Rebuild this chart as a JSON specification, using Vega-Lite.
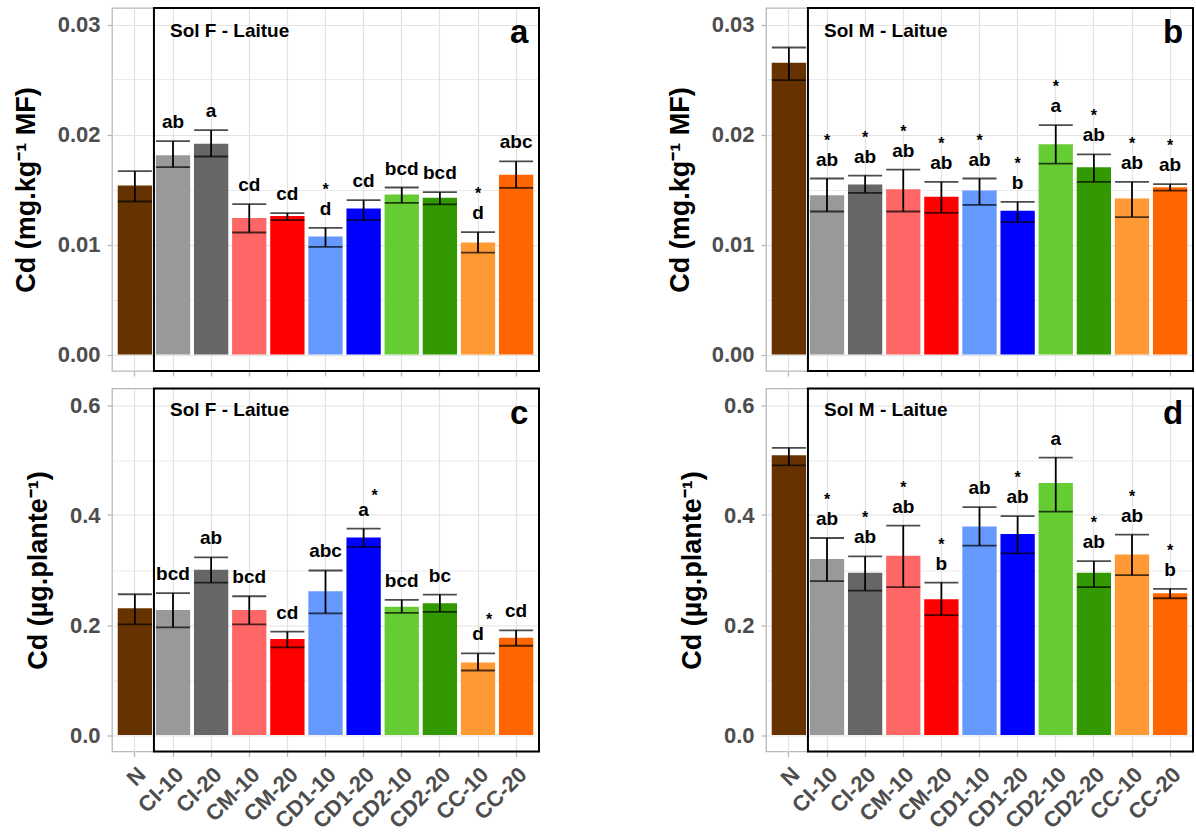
{
  "$schema": "https://vega.github.io/schema/vega-lite/v6.json",
  "padding": {"left": 11, "top": 0, "right": 0, "bottom": 0},
  "background": "white",
  "datasets": {
    "a": [
      {"trt": "N", "mean": 0.01536, "lo": 0.01391, "hi": 0.01667, "lab": "", "star": ""},
      {"trt": "CI-10", "mean": 0.01812, "lo": 0.01703, "hi": 0.01939, "lab": "ab", "star": ""},
      {"trt": "CI-20", "mean": 0.01915, "lo": 0.0180, "hi": 0.0204, "lab": "a", "star": ""},
      {"trt": "CM-10", "mean": 0.01242, "lo": 0.01109, "hi": 0.01367, "lab": "cd", "star": ""},
      {"trt": "CM-20", "mean": 0.01258, "lo": 0.01221, "hi": 0.01285, "lab": "cd", "star": ""},
      {"trt": "CD1-10", "mean": 0.01073, "lo": 0.00979, "hi": 0.01152, "lab": "d", "star": "*"},
      {"trt": "CD1-20", "mean": 0.01327, "lo": 0.01221, "hi": 0.01403, "lab": "cd", "star": ""},
      {"trt": "CD2-10", "mean": 0.01455, "lo": 0.01379, "hi": 0.01518, "lab": "bcd", "star": ""},
      {"trt": "CD2-20", "mean": 0.01424, "lo": 0.01364, "hi": 0.01476, "lab": "bcd", "star": ""},
      {"trt": "CC-10", "mean": 0.01018, "lo": 0.00927, "hi": 0.01112, "lab": "d", "star": "*"},
      {"trt": "CC-20", "mean": 0.01633, "lo": 0.01515, "hi": 0.01755, "lab": "abc", "star": ""}
    ],
    "b": [
      {"trt": "N", "mean": 0.02652, "lo": 0.02495, "hi": 0.02791, "lab": "", "star": ""},
      {"trt": "CI-10", "mean": 0.01448, "lo": 0.0130, "hi": 0.0160, "lab": "ab", "star": "*"},
      {"trt": "CI-20", "mean": 0.01545, "lo": 0.0147, "hi": 0.01627, "lab": "ab", "star": "*"},
      {"trt": "CM-10", "mean": 0.01503, "lo": 0.0130, "hi": 0.01681, "lab": "ab", "star": "*"},
      {"trt": "CM-20", "mean": 0.01433, "lo": 0.01288, "hi": 0.01569, "lab": "ab", "star": "*"},
      {"trt": "CD1-10", "mean": 0.01491, "lo": 0.01361, "hi": 0.0160, "lab": "ab", "star": "*"},
      {"trt": "CD1-20", "mean": 0.01306, "lo": 0.01203, "hi": 0.01388, "lab": "b", "star": "*"},
      {"trt": "CD2-10", "mean": 0.01911, "lo": 0.01736, "hi": 0.02086, "lab": "a", "star": "*"},
      {"trt": "CD2-20", "mean": 0.01702, "lo": 0.01569, "hi": 0.0182, "lab": "ab", "star": "*"},
      {"trt": "CC-10", "mean": 0.01418, "lo": 0.01249, "hi": 0.01569, "lab": "ab", "star": "*"},
      {"trt": "CC-20", "mean": 0.0152, "lo": 0.0149, "hi": 0.01548, "lab": "ab", "star": "*"}
    ],
    "c": [
      {"trt": "N", "mean": 0.2304, "lo": 0.2012, "hi": 0.2559, "lab": "", "star": ""},
      {"trt": "CI-10", "mean": 0.2274, "lo": 0.1957, "hi": 0.2578, "lab": "bcd", "star": ""},
      {"trt": "CI-20", "mean": 0.3003, "lo": 0.2772, "hi": 0.3228, "lab": "ab", "star": ""},
      {"trt": "CM-10", "mean": 0.2274, "lo": 0.2012, "hi": 0.2523, "lab": "bcd", "star": ""},
      {"trt": "CM-20", "mean": 0.1745, "lo": 0.1593, "hi": 0.1878, "lab": "cd", "star": ""},
      {"trt": "CD1-10", "mean": 0.2614, "lo": 0.2213, "hi": 0.2991, "lab": "abc", "star": ""},
      {"trt": "CD1-20", "mean": 0.3593, "lo": 0.3422, "hi": 0.3751, "lab": "a", "star": "*"},
      {"trt": "CD2-10", "mean": 0.2334, "lo": 0.2219, "hi": 0.2456, "lab": "bcd", "star": ""},
      {"trt": "CD2-20", "mean": 0.2395, "lo": 0.2237, "hi": 0.2553, "lab": "bc", "star": ""},
      {"trt": "CC-10", "mean": 0.1319, "lo": 0.1173, "hi": 0.1483, "lab": "d", "star": "*"},
      {"trt": "CC-20", "mean": 0.1769, "lo": 0.1623, "hi": 0.1903, "lab": "cd", "star": ""}
    ],
    "d": [
      {"trt": "N", "mean": 0.5087, "lo": 0.4904, "hi": 0.5221, "lab": "", "star": ""},
      {"trt": "CI-10", "mean": 0.3198, "lo": 0.2796, "hi": 0.3582, "lab": "ab", "star": "*"},
      {"trt": "CI-20", "mean": 0.2949, "lo": 0.2626, "hi": 0.3247, "lab": "ab", "star": "*"},
      {"trt": "CM-10", "mean": 0.3259, "lo": 0.2687, "hi": 0.3808, "lab": "ab", "star": "*"},
      {"trt": "CM-20", "mean": 0.2467, "lo": 0.2181, "hi": 0.2772, "lab": "b", "star": "*"},
      {"trt": "CD1-10", "mean": 0.3789, "lo": 0.3442, "hi": 0.4143, "lab": "ab", "star": ""},
      {"trt": "CD1-20", "mean": 0.3655, "lo": 0.3302, "hi": 0.3978, "lab": "ab", "star": "*"},
      {"trt": "CD2-10", "mean": 0.4581, "lo": 0.4063, "hi": 0.5044, "lab": "a", "star": ""},
      {"trt": "CD2-20", "mean": 0.2949, "lo": 0.2687, "hi": 0.3162, "lab": "ab", "star": "*"},
      {"trt": "CC-10", "mean": 0.3284, "lo": 0.2906, "hi": 0.3643, "lab": "ab", "star": "*"},
      {"trt": "CC-20", "mean": 0.2577, "lo": 0.2486, "hi": 0.2656, "lab": "b", "star": "*"}
    ]
  },
  "config": {
    "view": {"stroke": "#b8b8b8", "strokeWidth": 1.3},
    "axis": {
      "domain": false,
      "tickColor": "#b8b8b8",
      "tickSize": 5,
      "tickWidth": 1.3,
      "gridColor": "#e2e2e2",
      "gridWidth": 1.2,
      "labelFont": "Liberation Sans",
      "labelFontWeight": "bold",
      "labelColor": "#4d4d4d",
      "titleFont": "Liberation Sans",
      "titleFontWeight": "bold",
      "titleColor": "black"
    },
    "axisY": {"labelFontSize": 22, "titleFontSize": 27, "labelPadding": 7, "titlePadding": 17},
    "axisX": {"labelFontSize": 22, "labelPadding": 7},
    "text": {"font": "Liberation Sans", "fontWeight": "bold", "color": "black"}
  },
  "columns": 2,
  "spacing": {"row": 17.5, "column": 227},
  "bounds": "flush",
  "concat": [
    {
      "width": 427, "height": 363,
      "data": {"name": "a"},
      "encoding": {
        "x": {"field": "trt", "type": "nominal", "sort": null,
              "scale": {"paddingInner": 0.1, "paddingOuter": 0.15},
              "axis": {"labels": false, "title": null, "grid": true, "ticks": true}}
      },
      "layer": [
        {
          "mark": {"type": "bar"},
          "encoding": {
            "y": {"field": "mean", "type": "quantitative", "title": "Cd (mg.kg⁻¹ MF)",
                  "scale": {"domain": [-0.0015, 0.0315], "nice": false, "zero": false},
                  "axis": {"values": [0, 0.005, 0.01, 0.015, 0.02, 0.025, 0.03],
                           "labelExpr": "abs(datum.value*100 - round(datum.value*100)) > 0.01 ? '' : format(datum.value, '.2f')",
                           "tickOpacity": {"condition": {"test": "abs(datum.value*100 - round(datum.value*100)) > 0.01", "value": 0}, "value": 1},
                           "gridWidth": {"condition": {"test": "abs(datum.value*100 - round(datum.value*100)) > 0.01", "value": 0.7}, "value": 1.2}}},
            "color": {"field": "trt", "type": "nominal", "legend": null,
                      "scale": {"domain": ["N", "CI-10", "CI-20", "CM-10", "CM-20", "CD1-10", "CD1-20", "CD2-10", "CD2-20", "CC-10", "CC-20"],
                                "range": ["#663300", "#999999", "#666666", "#ff6666", "#ff0000", "#6699ff", "#0000ff", "#66cc33", "#339900", "#ff9933", "#ff6600"]}}
          }
        },
        {
          "mark": {"type": "rect", "fillOpacity": 0, "stroke": "black", "strokeWidth": 2},
          "data": {"values": [{}]},
          "encoding": {
            "x": {"datum": "N", "bandPosition": 1.0556},
            "x2": {"datum": "CC-20", "bandPosition": 1.1667},
            "y": {"datum": -0.0015, "type": "quantitative", "title": "Cd (mg.kg⁻¹ MF)"},
            "y2": {"datum": 0.0315}
          }
        },
        {
          "mark": {"type": "rule", "color": "black", "strokeWidth": 1.8},
          "encoding": {"y": {"field": "lo", "type": "quantitative", "title": "Cd (mg.kg⁻¹ MF)"}, "y2": {"field": "hi"}}
        },
        {
          "mark": {"type": "tick", "orient": "horizontal", "size": 34, "thickness": 1.8, "color": "black"},
          "encoding": {"y": {"field": "lo", "type": "quantitative", "title": "Cd (mg.kg⁻¹ MF)"}}
        },
        {
          "mark": {"type": "tick", "orient": "horizontal", "size": 34, "thickness": 1.8, "color": "black"},
          "encoding": {"y": {"field": "hi", "type": "quantitative", "title": "Cd (mg.kg⁻¹ MF)"}}
        },
        {
          "mark": {"type": "text", "fontSize": 19, "baseline": "alphabetic", "dy": -13},
          "encoding": {"y": {"field": "hi", "type": "quantitative", "title": "Cd (mg.kg⁻¹ MF)"}, "text": {"field": "lab"}}
        },
        {
          "mark": {"type": "text", "fontSize": 16, "baseline": "alphabetic", "dy": -33},
          "encoding": {"y": {"field": "hi", "type": "quantitative", "title": "Cd (mg.kg⁻¹ MF)"}, "text": {"field": "star"}}
        },
        {
          "mark": {"type": "text", "fontSize": 19, "align": "left", "baseline": "alphabetic", "dx": -3, "dy": 12, "text": "Sol F - Laitue"},
          "data": {"values": [{}]},
          "encoding": {"x": {"datum": "CI-10"}, "y": {"datum": 0.03, "type": "quantitative", "title": "Cd (mg.kg⁻¹ MF)"}}
        },
        {
          "mark": {"type": "text", "fontSize": 33, "align": "center", "baseline": "alphabetic", "dy": 18, "dx": 3, "text": "a"},
          "data": {"values": [{}]},
          "encoding": {"x": {"datum": "CC-20"}, "y": {"datum": 0.03, "type": "quantitative", "title": "Cd (mg.kg⁻¹ MF)"}}
        }
      ]
    },
    {
      "width": 427, "height": 363,
      "data": {"name": "b"},
      "encoding": {
        "x": {"field": "trt", "type": "nominal", "sort": null,
              "scale": {"paddingInner": 0.1, "paddingOuter": 0.15},
              "axis": {"labels": false, "title": null, "grid": true, "ticks": true}}
      },
      "layer": [
        {
          "mark": {"type": "bar"},
          "encoding": {
            "y": {"field": "mean", "type": "quantitative", "title": "Cd (mg.kg⁻¹ MF)",
                  "scale": {"domain": [-0.0015, 0.0315], "nice": false, "zero": false},
                  "axis": {"values": [0, 0.005, 0.01, 0.015, 0.02, 0.025, 0.03],
                           "labelExpr": "abs(datum.value*100 - round(datum.value*100)) > 0.01 ? '' : format(datum.value, '.2f')",
                           "tickOpacity": {"condition": {"test": "abs(datum.value*100 - round(datum.value*100)) > 0.01", "value": 0}, "value": 1},
                           "gridWidth": {"condition": {"test": "abs(datum.value*100 - round(datum.value*100)) > 0.01", "value": 0.7}, "value": 1.2}}},
            "color": {"field": "trt", "type": "nominal", "legend": null,
                      "scale": {"domain": ["N", "CI-10", "CI-20", "CM-10", "CM-20", "CD1-10", "CD1-20", "CD2-10", "CD2-20", "CC-10", "CC-20"],
                                "range": ["#663300", "#999999", "#666666", "#ff6666", "#ff0000", "#6699ff", "#0000ff", "#66cc33", "#339900", "#ff9933", "#ff6600"]}}
          }
        },
        {
          "mark": {"type": "rect", "fillOpacity": 0, "stroke": "black", "strokeWidth": 2},
          "data": {"values": [{}]},
          "encoding": {
            "x": {"datum": "N", "bandPosition": 1.0556},
            "x2": {"datum": "CC-20", "bandPosition": 1.1667},
            "y": {"datum": -0.0015, "type": "quantitative", "title": "Cd (mg.kg⁻¹ MF)"},
            "y2": {"datum": 0.0315}
          }
        },
        {
          "mark": {"type": "rule", "color": "black", "strokeWidth": 1.8},
          "encoding": {"y": {"field": "lo", "type": "quantitative", "title": "Cd (mg.kg⁻¹ MF)"}, "y2": {"field": "hi"}}
        },
        {
          "mark": {"type": "tick", "orient": "horizontal", "size": 34, "thickness": 1.8, "color": "black"},
          "encoding": {"y": {"field": "lo", "type": "quantitative", "title": "Cd (mg.kg⁻¹ MF)"}}
        },
        {
          "mark": {"type": "tick", "orient": "horizontal", "size": 34, "thickness": 1.8, "color": "black"},
          "encoding": {"y": {"field": "hi", "type": "quantitative", "title": "Cd (mg.kg⁻¹ MF)"}}
        },
        {
          "mark": {"type": "text", "fontSize": 19, "baseline": "alphabetic", "dy": -13},
          "encoding": {"y": {"field": "hi", "type": "quantitative", "title": "Cd (mg.kg⁻¹ MF)"}, "text": {"field": "lab"}}
        },
        {
          "mark": {"type": "text", "fontSize": 16, "baseline": "alphabetic", "dy": -33},
          "encoding": {"y": {"field": "hi", "type": "quantitative", "title": "Cd (mg.kg⁻¹ MF)"}, "text": {"field": "star"}}
        },
        {
          "mark": {"type": "text", "fontSize": 19, "align": "left", "baseline": "alphabetic", "dx": -3, "dy": 12, "text": "Sol M - Laitue"},
          "data": {"values": [{}]},
          "encoding": {"x": {"datum": "CI-10"}, "y": {"datum": 0.03, "type": "quantitative", "title": "Cd (mg.kg⁻¹ MF)"}}
        },
        {
          "mark": {"type": "text", "fontSize": 33, "align": "center", "baseline": "alphabetic", "dy": 18, "dx": 3, "text": "b"},
          "data": {"values": [{}]},
          "encoding": {"x": {"datum": "CC-20"}, "y": {"datum": 0.03, "type": "quantitative", "title": "Cd (mg.kg⁻¹ MF)"}}
        }
      ]
    },
    {
      "width": 427, "height": 363,
      "data": {"name": "c"},
      "encoding": {
        "x": {"field": "trt", "type": "nominal", "sort": null,
              "scale": {"paddingInner": 0.1, "paddingOuter": 0.15},
              "axis": {"labelAngle": -45, "labelAlign": "right", "labelBaseline": "top", "title": null, "grid": true, "ticks": true}}
      },
      "layer": [
        {
          "mark": {"type": "bar"},
          "encoding": {
            "y": {"field": "mean", "type": "quantitative", "title": "Cd (µg.plante⁻¹)",
                  "scale": {"domain": [-0.03, 0.63], "nice": false, "zero": false},
                  "axis": {"values": [0, 0.1, 0.2, 0.3, 0.4, 0.5, 0.6],
                           "labelExpr": "abs(datum.value*5 - round(datum.value*5)) > 0.01 ? '' : format(datum.value, '.1f')",
                           "tickOpacity": {"condition": {"test": "abs(datum.value*5 - round(datum.value*5)) > 0.01", "value": 0}, "value": 1},
                           "gridWidth": {"condition": {"test": "abs(datum.value*5 - round(datum.value*5)) > 0.01", "value": 0.7}, "value": 1.2}}},
            "color": {"field": "trt", "type": "nominal", "legend": null,
                      "scale": {"domain": ["N", "CI-10", "CI-20", "CM-10", "CM-20", "CD1-10", "CD1-20", "CD2-10", "CD2-20", "CC-10", "CC-20"],
                                "range": ["#663300", "#999999", "#666666", "#ff6666", "#ff0000", "#6699ff", "#0000ff", "#66cc33", "#339900", "#ff9933", "#ff6600"]}}
          }
        },
        {
          "mark": {"type": "rect", "fillOpacity": 0, "stroke": "black", "strokeWidth": 2},
          "data": {"values": [{}]},
          "encoding": {
            "x": {"datum": "N", "bandPosition": 1.0556},
            "x2": {"datum": "CC-20", "bandPosition": 1.1667},
            "y": {"datum": -0.03, "type": "quantitative", "title": "Cd (µg.plante⁻¹)"},
            "y2": {"datum": 0.63}
          }
        },
        {
          "mark": {"type": "rule", "color": "black", "strokeWidth": 1.8},
          "encoding": {"y": {"field": "lo", "type": "quantitative", "title": "Cd (µg.plante⁻¹)"}, "y2": {"field": "hi"}}
        },
        {
          "mark": {"type": "tick", "orient": "horizontal", "size": 34, "thickness": 1.8, "color": "black"},
          "encoding": {"y": {"field": "lo", "type": "quantitative", "title": "Cd (µg.plante⁻¹)"}}
        },
        {
          "mark": {"type": "tick", "orient": "horizontal", "size": 34, "thickness": 1.8, "color": "black"},
          "encoding": {"y": {"field": "hi", "type": "quantitative", "title": "Cd (µg.plante⁻¹)"}}
        },
        {
          "mark": {"type": "text", "fontSize": 19, "baseline": "alphabetic", "dy": -13},
          "encoding": {"y": {"field": "hi", "type": "quantitative", "title": "Cd (µg.plante⁻¹)"}, "text": {"field": "lab"}}
        },
        {
          "mark": {"type": "text", "fontSize": 16, "baseline": "alphabetic", "dy": -28, "dx": 11},
          "encoding": {"y": {"field": "hi", "type": "quantitative", "title": "Cd (µg.plante⁻¹)"}, "text": {"field": "star"}}
        },
        {
          "mark": {"type": "text", "fontSize": 19, "align": "left", "baseline": "alphabetic", "dx": -3, "dy": 11, "text": "Sol F - Laitue"},
          "data": {"values": [{}]},
          "encoding": {"x": {"datum": "CI-10"}, "y": {"datum": 0.6, "type": "quantitative", "title": "Cd (µg.plante⁻¹)"}}
        },
        {
          "mark": {"type": "text", "fontSize": 33, "align": "center", "baseline": "alphabetic", "dy": 19, "dx": 3, "text": "c"},
          "data": {"values": [{}]},
          "encoding": {"x": {"datum": "CC-20"}, "y": {"datum": 0.6, "type": "quantitative", "title": "Cd (µg.plante⁻¹)"}}
        }
      ]
    },
    {
      "width": 427, "height": 363,
      "data": {"name": "d"},
      "encoding": {
        "x": {"field": "trt", "type": "nominal", "sort": null,
              "scale": {"paddingInner": 0.1, "paddingOuter": 0.15},
              "axis": {"labelAngle": -45, "labelAlign": "right", "labelBaseline": "top", "title": null, "grid": true, "ticks": true}}
      },
      "layer": [
        {
          "mark": {"type": "bar"},
          "encoding": {
            "y": {"field": "mean", "type": "quantitative", "title": "Cd (µg.plante⁻¹)",
                  "scale": {"domain": [-0.03, 0.63], "nice": false, "zero": false},
                  "axis": {"values": [0, 0.1, 0.2, 0.3, 0.4, 0.5, 0.6],
                           "labelExpr": "abs(datum.value*5 - round(datum.value*5)) > 0.01 ? '' : format(datum.value, '.1f')",
                           "tickOpacity": {"condition": {"test": "abs(datum.value*5 - round(datum.value*5)) > 0.01", "value": 0}, "value": 1},
                           "gridWidth": {"condition": {"test": "abs(datum.value*5 - round(datum.value*5)) > 0.01", "value": 0.7}, "value": 1.2}}},
            "color": {"field": "trt", "type": "nominal", "legend": null,
                      "scale": {"domain": ["N", "CI-10", "CI-20", "CM-10", "CM-20", "CD1-10", "CD1-20", "CD2-10", "CD2-20", "CC-10", "CC-20"],
                                "range": ["#663300", "#999999", "#666666", "#ff6666", "#ff0000", "#6699ff", "#0000ff", "#66cc33", "#339900", "#ff9933", "#ff6600"]}}
          }
        },
        {
          "mark": {"type": "rect", "fillOpacity": 0, "stroke": "black", "strokeWidth": 2},
          "data": {"values": [{}]},
          "encoding": {
            "x": {"datum": "N", "bandPosition": 1.0556},
            "x2": {"datum": "CC-20", "bandPosition": 1.1667},
            "y": {"datum": -0.03, "type": "quantitative", "title": "Cd (µg.plante⁻¹)"},
            "y2": {"datum": 0.63}
          }
        },
        {
          "mark": {"type": "rule", "color": "black", "strokeWidth": 1.8},
          "encoding": {"y": {"field": "lo", "type": "quantitative", "title": "Cd (µg.plante⁻¹)"}, "y2": {"field": "hi"}}
        },
        {
          "mark": {"type": "tick", "orient": "horizontal", "size": 34, "thickness": 1.8, "color": "black"},
          "encoding": {"y": {"field": "lo", "type": "quantitative", "title": "Cd (µg.plante⁻¹)"}}
        },
        {
          "mark": {"type": "tick", "orient": "horizontal", "size": 34, "thickness": 1.8, "color": "black"},
          "encoding": {"y": {"field": "hi", "type": "quantitative", "title": "Cd (µg.plante⁻¹)"}}
        },
        {
          "mark": {"type": "text", "fontSize": 19, "baseline": "alphabetic", "dy": -13},
          "encoding": {"y": {"field": "hi", "type": "quantitative", "title": "Cd (µg.plante⁻¹)"}, "text": {"field": "lab"}}
        },
        {
          "mark": {"type": "text", "fontSize": 16, "baseline": "alphabetic", "dy": -33},
          "encoding": {"y": {"field": "hi", "type": "quantitative", "title": "Cd (µg.plante⁻¹)"}, "text": {"field": "star"}}
        },
        {
          "mark": {"type": "text", "fontSize": 19, "align": "left", "baseline": "alphabetic", "dx": -3, "dy": 11, "text": "Sol M - Laitue"},
          "data": {"values": [{}]},
          "encoding": {"x": {"datum": "CI-10"}, "y": {"datum": 0.6, "type": "quantitative", "title": "Cd (µg.plante⁻¹)"}}
        },
        {
          "mark": {"type": "text", "fontSize": 33, "align": "center", "baseline": "alphabetic", "dy": 19, "dx": 3, "text": "d"},
          "data": {"values": [{}]},
          "encoding": {"x": {"datum": "CC-20"}, "y": {"datum": 0.6, "type": "quantitative", "title": "Cd (µg.plante⁻¹)"}}
        }
      ]
    }
  ]
}
